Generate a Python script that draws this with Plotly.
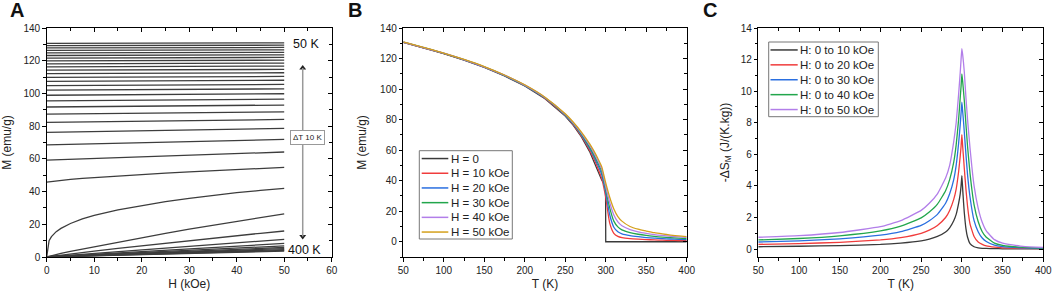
import plotly.graph_objects as go

# ---------------- Panel A: M vs H isotherms ----------------
T_low = [50, 60, 70, 80, 90, 100, 110, 120, 130, 140, 150, 160, 170, 180,
         190, 200, 210, 220, 230, 240, 250, 260, 270, 280]
H_ends = [0, 50]
M_low_H0 = [130.6, 129.2, 127.8, 126.3, 124.8, 123.2, 121.6, 119.9, 118.1, 116.2,
            114.2, 112.1, 109.8, 107.4, 104.8, 102.0, 98.9, 95.5, 91.7, 87.3,
            82.3, 76.2, 68.6, 59.2]
M_low_H50 = [130.9, 129.5, 128.1, 126.65, 125.15, 123.6, 122.0, 120.35, 118.55, 116.7,
             114.7, 112.65, 110.4, 108.05, 105.5, 102.8, 99.8, 96.5, 92.9, 88.7,
             84.1, 78.6, 71.9, 64.2]
H_grid = [0, 0.5, 1, 2, 3, 5, 7.5, 10, 15, 20, 25, 30, 35, 40, 45, 50]
M_290 = [45.8, 46.0, 46.2, 46.6, 46.9, 47.5, 48.1, 48.6, 49.6, 50.5, 51.3, 52.0, 52.7, 53.4, 54.1, 54.8]
M_300 = [0, 10.0, 12.5, 15.5, 17.5, 20.5, 23.3, 25.5, 28.8, 31.5, 33.8, 35.8, 37.6, 39.3, 40.7, 42.0]
M_310 = [0, 0.4, 0.8, 1.5, 2.2, 3.5, 4.9, 6.2, 9.0, 11.8, 14.4, 17.0, 19.4, 21.8, 24.1, 26.4]
M_320 = [0, 0.2, 0.4, 0.75, 1.1, 1.85, 2.75, 3.6, 5.3, 6.9, 8.5, 10.0, 11.5, 13.0, 14.5, 15.9]
T_hi = [330, 340, 350, 360, 370, 380, 390, 400]
M_hi_H0 = [0, 0, 0, 0, 0, 0, 0, 0]
M_hi_H50 = [10.8, 8.3, 6.8, 5.8, 5.1, 4.5, 4.0, 3.6]

# ---------------- Panel B: M vs T ----------------
T_B0 = [50, 75, 100, 125, 150, 175, 200, 225, 250, 260, 270, 280, 285, 290, 295, 298,
        299.8, 300, 325, 350, 375, 400]
M_B0 = [130.6, 127.0, 123.2, 119.0, 114.2, 108.6, 102.0, 93.7, 82.3, 76.2, 68.6, 59.2,
        53.0, 45.8, 40.5, 38.0, 37.0, 0, 0, 0, 0, 0]
T_B = [50, 75, 100, 125, 150, 175, 200, 225, 250, 260, 270, 280, 285, 290, 295, 300,
       305, 310, 315, 320, 330, 340, 350, 360, 370, 380, 390, 400]
M_B10 = [130.65, 127.05, 123.27, 119.08, 114.3, 108.72, 102.15, 93.9, 82.6, 76.6, 69.2,
         60.2, 54.8, 48.6, 41.5, 29.0, 12.0, 5.5, 3.5, 2.7, 2.0, 1.65, 1.4, 1.2, 1.0, 0.9, 0.8, 0.7]
M_B20 = [130.7, 127.1, 123.35, 119.16, 114.4, 108.85, 102.3, 94.1, 82.9, 77.0, 69.9,
         61.2, 56.2, 50.5, 44.0, 32.0, 17.5, 9.5, 6.5, 5.2, 4.0, 3.3, 2.75, 2.35, 2.0, 1.8, 1.6, 1.4]
M_B30 = [130.75, 127.15, 123.42, 119.24, 114.5, 108.98, 102.45, 94.3, 83.2, 77.4, 70.5,
         62.1, 57.4, 52.0, 46.0, 34.0, 22.0, 13.5, 9.7, 7.8, 6.0, 4.9, 4.1, 3.5, 3.0, 2.65, 2.35, 2.1]
M_B40 = [130.8, 127.2, 123.5, 119.32, 114.6, 109.1, 102.6, 94.5, 83.5, 77.8, 71.2,
         63.2, 58.6, 53.4, 47.6, 36.0, 25.5, 17.5, 13.0, 10.5, 8.0, 6.5, 5.5, 4.7, 4.1, 3.6, 3.2, 2.8]
M_B50 = [130.9, 127.3, 123.6, 119.4, 114.7, 109.2, 102.8, 94.7, 83.8, 78.3, 71.8,
         64.2, 59.8, 54.8, 49.2, 38.5, 29.0, 21.5, 16.5, 13.5, 10.0, 8.2, 7.0, 5.9, 5.1, 4.4, 3.8, 3.4]
B_labels = ["H = 0", "H = 10 kOe", "H = 20 kOe", "H = 30 kOe", "H = 40 kOe", "H = 50 kOe"]

# ---------------- Panel C: -dS_M vs T ----------------
T_C = [50, 100, 150, 200, 225, 250, 260, 270, 280, 285, 290, 293, 296, 298, 299, 300,
       301, 302, 303, 305, 307, 310, 315, 320, 325, 330, 340, 350, 375, 400]
S_10 = [0.15, 0.18, 0.22, 0.3, 0.38, 0.52, 0.63, 0.8, 1.08, 1.35, 1.8, 2.2, 2.9, 3.5, 4.0, 4.65,
        3.8, 3.0, 2.3, 1.3, 0.75, 0.35, 0.15, 0.08, 0.05, 0.04, 0.03, 0.02, 0.01, 0.01]
S_20 = [0.3, 0.35, 0.43, 0.58, 0.73, 1.0, 1.2, 1.5, 2.0, 2.45, 3.15, 3.8, 4.9, 5.9, 6.5, 7.25,
        6.5, 5.8, 5.1, 3.8, 2.7, 1.6, 0.8, 0.45, 0.3, 0.2, 0.12, 0.08, 0.04, 0.03]
S_30 = [0.45, 0.52, 0.65, 0.88, 1.1, 1.5, 1.8, 2.2, 2.9, 3.5, 4.4, 5.3, 6.7, 7.9, 8.6, 9.3,
        8.7, 8.1, 7.4, 6.0, 4.7, 3.3, 1.8, 1.1, 0.7, 0.48, 0.25, 0.16, 0.08, 0.05]
S_40 = [0.58, 0.67, 0.84, 1.15, 1.45, 1.98, 2.35, 2.85, 3.7, 4.4, 5.5, 6.6, 8.2, 9.6, 10.3, 11.1,
        10.6, 10.0, 9.4, 7.9, 6.5, 4.8, 2.8, 1.75, 1.1, 0.75, 0.38, 0.24, 0.11, 0.07]
S_50 = [0.75, 0.85, 1.05, 1.42, 1.8, 2.45, 2.9, 3.5, 4.5, 5.3, 6.8, 8.0, 9.8, 11.2, 12.0, 12.7,
        12.3, 11.8, 11.2, 9.6, 8.2, 6.4, 4.0, 2.6, 1.7, 1.15, 0.6, 0.38, 0.17, 0.1]
C_labels = ["H: 0 to 10 kOe", "H: 0 to 20 kOe", "H: 0 to 30 kOe", "H: 0 to 40 kOe", "H: 0 to 50 kOe"]

# ---------------- styling ----------------
FONT = "Liberation Sans, Arial, sans-serif"
DARK = "#3d3d3d"
COLORS = ["#3a3a3a", "#f03c3c", "#2a6fe0", "#22a64c", "#b27ee9", "#d4a01c"]
LW = 1.3
W, Hh = 1052, 294


def px_x(p):
    return p / W


def px_y(p):
    return 1 - p / Hh


fig = go.Figure()

# Panel A
for i in range(len(T_low)):
    fig.add_trace(go.Scatter(x=H_ends, y=[M_low_H0[i], M_low_H50[i]], mode="lines",
                             line=dict(color=DARK, width=LW), showlegend=False,
                             xaxis="x", yaxis="y", hoverinfo="skip"))
for curve in (M_290, M_300, M_310, M_320):
    fig.add_trace(go.Scatter(x=H_grid, y=curve, mode="lines", line=dict(color=DARK, width=LW),
                             showlegend=False, xaxis="x", yaxis="y", hoverinfo="skip"))
for i in range(len(T_hi)):
    fig.add_trace(go.Scatter(x=H_ends, y=[M_hi_H0[i], M_hi_H50[i]], mode="lines",
                             line=dict(color=DARK, width=LW), showlegend=False,
                             xaxis="x", yaxis="y", hoverinfo="skip"))

# Panel B
fig.add_trace(go.Scatter(x=T_B0, y=M_B0, mode="lines", name=B_labels[0],
                         line=dict(color=COLORS[0], width=LW), xaxis="x2", yaxis="y2",
                         showlegend=False))
for k, ser in enumerate([M_B10, M_B20, M_B30, M_B40, M_B50]):
    fig.add_trace(go.Scatter(x=T_B, y=ser, mode="lines", name=B_labels[k + 1],
                             line=dict(color=COLORS[k + 1], width=LW, shape="spline", smoothing=0.6),
                             xaxis="x2", yaxis="y2", showlegend=False))

# Panel C
for k, ser in enumerate([S_10, S_20, S_30, S_40, S_50]):
    fig.add_trace(go.Scatter(x=T_C, y=ser, mode="lines", name=C_labels[k],
                             line=dict(color=COLORS[k], width=LW, shape="spline", smoothing=0.4),
                             xaxis="x3", yaxis="y3", showlegend=False))

ydom = [px_y(257), px_y(28)]
xdomA = [px_x(46.7), px_x(331.7)]
xdomB = [px_x(403.3), px_x(686.7)]
xdomC = [px_x(758.3), px_x(1043.3)]

tickfont = dict(family=FONT, size=10, color="#222")
titlefont = dict(family=FONT, size=12, color="#222")


def main_axis(dom, rng, dtick, mdtick, anchor, title, standoff, tick0=None):
    d = dict(domain=dom, range=rng, dtick=dtick, ticks="outside", ticklen=3.5, tickwidth=1,
             tickcolor="black", showline=True, linecolor="black", linewidth=1, mirror=True,
             showgrid=False, zeroline=False, anchor=anchor, tickfont=tickfont, automargin=False,
             ticklabeloverflow="allow",
             title=dict(text=title, font=titlefont, standoff=standoff),
             minor=dict(dtick=mdtick, ticks="outside", ticklen=2.5, tickcolor="black", showgrid=False))
    if tick0 is not None:
        d["tick0"] = tick0
    return d


def mirror_axis(over, side, anchor, rng, dtick, mdtick, tick0=None):
    d = dict(overlaying=over, side=side, anchor=anchor, range=rng, dtick=dtick,
             ticks="inside", ticklen=4, tickwidth=1, tickcolor="black", showticklabels=False,
             showline=False, showgrid=False, zeroline=False, automargin=False,
             minor=dict(dtick=mdtick, ticks="inside", ticklen=2.5, tickcolor="black", showgrid=False))
    if tick0 is not None:
        d["tick0"] = tick0
    return d


fig.update_layout(
    width=W, height=Hh, margin=dict(l=0, r=0, t=0, b=0, autoexpand=False),
    paper_bgcolor="white", plot_bgcolor="white",
    font=dict(family=FONT, color="#222"),
    showlegend=False,
    xaxis=main_axis(xdomA, [0, 60], 10, 5, "y", "H (kOe)", 5),
    yaxis=main_axis(ydom, [0, 140], 20, 10, "x", "M (emu/g)", 12),
    xaxis2=main_axis(xdomB, [50, 400], 50, 25, "y2", "T (K)", 5),
    yaxis2=main_axis(ydom, [-10, 140], 20, 10, "x2", "M (emu/g)", 10, tick0=0),
    xaxis3=main_axis(xdomC, [50, 400], 50, 25, "y3", "T (K)", 5),
    yaxis3=main_axis(ydom, [-0.5, 14], 2, 1, "x3", "-ΔS<sub>M</sub> (J/(K.kg))", 8, tick0=0),
    xaxis4=mirror_axis("x", "top", "y", [0, 60], 10, 5),
    yaxis4=mirror_axis("y", "right", "x", [0, 140], 20, 10),
    xaxis5=mirror_axis("x2", "top", "y2", [50, 400], 50, 25),
    yaxis5=mirror_axis("y2", "right", "x2", [-10, 140], 20, 10, tick0=0),
    xaxis6=mirror_axis("x3", "top", "y3", [50, 400], 50, 25),
    yaxis6=mirror_axis("y3", "right", "x3", [-0.5, 14], 2, 1, tick0=0),
)

# dummy traces so overlay axes render
for xa, ya in (("x4", "y"), ("x", "y4"), ("x5", "y2"), ("x2", "y5"), ("x6", "y3"), ("x3", "y6")):
    fig.add_trace(go.Scatter(x=[None], y=[None], xaxis=xa, yaxis=ya, showlegend=False, hoverinfo="skip"))


# ---------------- custom legends (compact rows like the reference) ----------------
def draw_legend(labels, colors, box, line_x, text_x, row_h):
    x0, y0, x1, y1 = box
    fig.add_shape(type="rect", xref="paper", yref="paper", x0=px_x(x0), x1=px_x(x1),
                  y0=px_y(y1), y1=px_y(y0), line=dict(color="#777", width=1), fillcolor="white",
                  layer="above")
    for i, (lab, col) in enumerate(zip(labels, colors)):
        cy = y0 + row_h * (i + 0.5) + 0.5
        fig.add_shape(type="line", xref="paper", yref="paper", x0=px_x(line_x[0]), x1=px_x(line_x[1]),
                      y0=px_y(cy), y1=px_y(cy), line=dict(color=col, width=1.5), layer="above")
        fig.add_annotation(xref="paper", yref="paper", x=px_x(text_x), y=px_y(cy), text=lab,
                           showarrow=False, xanchor="left", yanchor="middle",
                           font=dict(family=FONT, size=11.5, color="#222"))


draw_legend(B_labels, COLORS, (419.3, 150.7, 512.3, 239.0), (421.7, 448.3), 448.5, 14.7)
draw_legend(C_labels, COLORS[:5], (768.7, 42.0, 878.3, 116.7), (770.5, 797.7), 797.5, 14.9)

# ---------------- Panel A annotations ----------------
ARROW_X = 53.9
ARROW_TOP = 115.5
ARROW_BOT = 12.5
fig.add_shape(type="line", xref="x", yref="y", x0=ARROW_X, x1=ARROW_X, y0=ARROW_BOT, y1=ARROW_TOP,
              line=dict(color="#999", width=1.5))
fig.add_trace(go.Scatter(x=[ARROW_X, ARROW_X], y=[ARROW_TOP, ARROW_BOT], mode="markers",
                         marker=dict(symbol=["triangle-up", "triangle-down"], size=6, color="#222"),
                         xaxis="x", yaxis="y", showlegend=False, hoverinfo="skip"))
fig.add_annotation(xref="x", yref="y", x=54.8, y=73.2, text="ΔT 10 K", showarrow=False,
                   font=dict(family=FONT, size=8, color="#222"), bgcolor="white",
                   bordercolor="#999", borderwidth=1, borderpad=2)
fig.add_annotation(xref="x", yref="y", x=54.6, y=130.2, text="50 K", showarrow=False,
                   font=dict(family=FONT, size=12.5, color="#111"))
fig.add_annotation(xref="x", yref="y", x=54.3, y=4.0, text="400 K", showarrow=False,
                   font=dict(family=FONT, size=12.5, color="#111"))

# Panel letters
for letter, cx in (("A", 17), ("B", 355), ("C", 710)):
    fig.add_annotation(xref="paper", yref="paper", x=px_x(cx), y=px_y(10), text="<b>%s</b>" % letter,
                       showarrow=False, font=dict(family=FONT, size=20, color="#111"),
                       xanchor="center", yanchor="middle")

# the page body has a default 8 px margin; remove it so the figure fills the window
fig.write_html("out.html", config={"displayModeBar": False},
               post_script="document.body.style.margin='0';")
